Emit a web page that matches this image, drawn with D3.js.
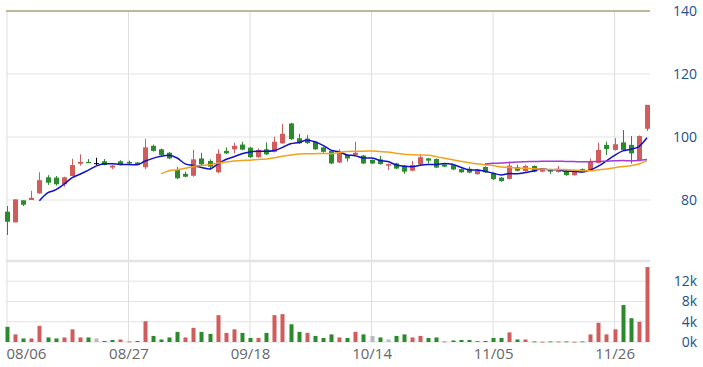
<!DOCTYPE html>
<html>
<head>
<meta charset="utf-8">
<script src="https://cdn.jsdelivr.net/npm/d3@7/dist/d3.min.js"></script>
<style>
  body { margin: 0; background: #fff; }
  svg { display: block; font-family: "Open Sans", sans-serif; }
</style>
</head>
<body>
<div id="chart"></div>
<script>
// daily OHLC + volume, 80 sessions
const open = [76.3, 72.9, 79.9, 80.0, 82.1, 87.2, 87.1, 85.0, 87.6, 91.5,
  92.1, 91.7, 92.3, 90.3, 92.3, 92.1, 91.9, 90.4, 97.2, 96.1,
  95.0, 89.5, 88.3, 87.7, 93.2, 92.4, 88.8, 95.6, 96.1, 97.6,
  96.6, 93.6, 96.1, 95.3, 98.0, 104.3, 99.6, 99.5, 98.5, 96.7,
  95.6, 91.9, 94.3, 94.3, 94.1, 92.7, 92.9, 90.9, 91.6, 90.9,
  89.3, 91.3, 93.2, 93.0, 91.3, 91.1, 89.8, 89.9, 88.2, 90.5,
  88.5, 87.1, 86.7, 90.4, 89.2, 90.8, 89.0, 89.7, 88.9, 89.2,
  87.9, 89.8, 89.5, 91.8, 97.5, 95.9, 98.3, 97.5, 92.7, 102.6];
const close = [73.1, 80.2, 78.5, 80.7, 86.3, 85.5, 85.0, 87.2, 91.1, 92.1,
  91.7, 91.7, 91.1, 90.9, 91.1, 91.6, 91.1, 96.7, 95.6, 94.3,
  93.2, 86.9, 87.4, 92.9, 91.3, 90.6, 94.7, 94.8, 97.2, 96.0,
  93.6, 95.9, 94.5, 98.5, 101.0, 99.3, 98.0, 98.1, 96.1, 95.3,
  91.6, 95.3, 93.2, 95.0, 91.6, 91.6, 91.4, 91.4, 90.0, 89.0,
  91.1, 93.6, 92.5, 90.3, 90.6, 89.7, 88.8, 88.7, 89.7, 88.8,
  86.6, 86.0, 90.9, 89.3, 90.8, 89.0, 89.8, 89.0, 89.8, 87.9,
  89.0, 88.8, 92.2, 95.9, 96.2, 97.7, 95.9, 94.8, 100.3, 110.2];
const high = [78.1, 80.2, 79.9, 82.9, 88.8, 87.9, 87.6, 87.4, 93.1, 94.5,
  93.0, 93.4, 93.0, 91.1, 92.6, 92.5, 92.0, 99.4, 97.6, 96.3,
  95.2, 90.5, 89.0, 95.9, 95.0, 92.9, 96.1, 96.7, 98.2, 98.5,
  96.9, 96.4, 98.3, 100.1, 104.1, 104.5, 101.0, 100.6, 98.7, 96.9,
  95.8, 96.1, 94.5, 98.5, 94.3, 92.9, 94.0, 91.6, 91.8, 91.1,
  92.4, 94.6, 93.4, 93.2, 91.5, 91.3, 90.0, 90.6, 89.9, 90.7,
  88.7, 87.3, 92.2, 91.2, 91.2, 91.0, 90.0, 89.9, 90.8, 89.4,
  89.2, 90.0, 93.2, 98.2, 98.5, 99.6, 102.2, 100.3, 100.5, 110.2];
const low = [68.9, 72.9, 78.1, 80.0, 82.0, 84.8, 84.6, 84.2, 87.6, 90.9,
  91.7, 91.1, 91.0, 89.8, 91.0, 91.5, 91.0, 89.8, 95.4, 94.1,
  93.0, 86.6, 87.2, 87.4, 91.1, 89.5, 88.5, 94.6, 94.8, 95.8,
  93.4, 93.4, 94.3, 95.1, 97.8, 99.1, 97.8, 97.8, 95.9, 95.0,
  91.4, 91.7, 92.2, 94.1, 91.4, 91.4, 91.2, 89.5, 89.8, 88.3,
  89.1, 91.1, 91.6, 90.1, 90.4, 89.5, 88.6, 88.5, 88.0, 88.6,
  86.4, 85.8, 86.5, 89.1, 89.0, 88.8, 88.8, 88.3, 88.7, 87.7,
  87.7, 88.6, 89.3, 91.6, 94.3, 95.7, 95.7, 91.6, 92.5, 101.9];
const volume = [3000, 1500, 700, 700, 3200, 900, 700, 900, 2500, 900,
  900, 700, 200, 400, 500, 100, 200, 4100, 1200, 500,
  900, 2000, 900, 2800, 2000, 1600, 5300, 1800, 2500, 1800,
  800, 800, 1800, 5300, 5500, 3500, 2000, 1800, 1200, 800,
  1500, 900, 800, 2000, 1500, 1200, 900, 500, 1200, 1500,
  900, 1200, 800, 900, 100, 300, 400, 400, 200, 200,
  800, 800, 1900, 500, 500, 100, 50, 100, 100, 100,
  50, 100, 1500, 3800, 1500, 2500, 7300, 4700, 4000, 14800];

const xTickIndex = [0, 15, 30, 45, 60, 75];
const xTickLabels = ["08/06", "08/27", "09/18", "10/14", "11/05", "11/26"];
const priceTicks = [80, 100, 120, 140];
const volumeTicks = [0, 4000, 8000, 12000];
const maPeriods = [5, 20, 60];

const W = 703, H = 367;
const left = 7, right = 650;
const red = "#d05c5c", green = "#2b8a2b";

const svg = d3.select("#chart").append("svg")
  .attr("width", W).attr("height", H);

const x = d3.scaleLinear().domain([0, close.length - 1]).range([left, 647]);
const y = d3.scaleLinear().domain([60, 140]).range([263, 11]);
const yv = d3.scaleLinear().domain([0, 16000]).range([342, 261]);

// grid
svg.append("g").selectAll("line")
  .data(xTickIndex).join("line")
  .attr("x1", d => x(d)).attr("x2", d => x(d))
  .attr("y1", 11).attr("y2", 342)
  .attr("stroke", "#dedede");

svg.append("g").selectAll("line")
  .data(priceTicks).join("line")
  .attr("x1", left - 1).attr("x2", right)
  .attr("y1", d => y(d)).attr("y2", d => y(d))
  .attr("stroke", d => d === 140 ? "#a8a27c" : "#e3e3e3")
  .attr("stroke-width", d => d === 140 ? 1.5 : 1.2);

svg.append("g").selectAll("line")
  .data(volumeTicks.concat([16000])).join("line")
  .attr("x1", left - 1).attr("x2", right)
  .attr("y1", d => yv(d)).attr("y2", d => yv(d))
  .attr("stroke", "#e3e3e3")
  .attr("stroke-width", d => d === 16000 ? 2.5 : 1.2);

// axis labels
const priceAxis = d3.axisRight(y).tickValues(priceTicks).tickSize(0).tickPadding(0);
svg.append("g").attr("transform", "translate(697,0)").call(priceAxis)
  .call(g => g.select(".domain").remove())
  .selectAll("text")
  .attr("text-anchor", "end")
  .attr("fill", "#23508c")
  .style("font-size", "14px")
  .style("font-family", "'Open Sans', sans-serif");

const volAxis = d3.axisRight(yv).tickValues(volumeTicks).tickSize(0).tickPadding(0)
  .tickFormat(d => (d / 1000) + "k");
svg.append("g").attr("transform", "translate(697,0)").call(volAxis)
  .call(g => g.select(".domain").remove())
  .selectAll("text")
  .attr("text-anchor", "end")
  .attr("fill", "#23508c")
  .style("font-size", "14px")
  .style("font-family", "'Open Sans', sans-serif");

const xAxis = d3.axisBottom(x).tickValues(xTickIndex).tickSize(0).tickPadding(0)
  .tickFormat((d, i) => xTickLabels[i]);
svg.append("g").attr("transform", "translate(0,348)").call(xAxis)
  .call(g => g.select(".domain").remove())
  .selectAll("text")
  .attr("fill", "#666")
  .attr("text-anchor", (d, i) => i === 0 ? "start" : "middle")
  .attr("dx", (d, i) => i === 0 ? "-1" : "0")
  .style("font-size", "15px")
  .style("font-family", "'Open Sans', sans-serif");

// candles
const idx = d3.range(close.length);
const candleColor = i => close[i] > open[i] ? red : close[i] < open[i] ? green : "#000";
const volColor = i => {
  if (i === 0) return candleColor(0);
  return close[i] > close[i - 1] ? red : close[i] < close[i - 1] ? green : "#bbb";
};

const candles = svg.append("g");
candles.selectAll("line")
  .data(idx).join("line")
  .attr("x1", i => Math.round(x(i)) + 0.5).attr("x2", i => Math.round(x(i)) + 0.5)
  .attr("y1", i => y(high[i])).attr("y2", i => y(low[i]))
  .attr("stroke", candleColor);
candles.selectAll("rect")
  .data(idx).join("rect")
  .attr("x", i => Math.round(x(i)) - 2)
  .attr("width", 5)
  .attr("y", i => y(Math.max(open[i], close[i])))
  .attr("height", i => Math.max(1, Math.abs(y(open[i]) - y(close[i]))))
  .attr("fill", candleColor);

// volume bars
svg.append("g").selectAll("rect")
  .data(idx).join("rect")
  .attr("x", i => Math.round(x(i)) - 1.5)
  .attr("width", 4)
  .attr("y", i => yv(volume[i]))
  .attr("height", i => Math.max(0.8, yv(0) - yv(volume[i])))
  .attr("fill", volColor);

// moving averages
const maColors = ["#1010c8", "#f2a21e", "#a53bd6"];
maPeriods.forEach((p, k) => {
  const pts = idx.filter(i => i >= p - 1)
    .map(i => [i, d3.mean(close.slice(i - p + 1, i + 1))]);
  const line = d3.line().x(d => x(d[0])).y(d => y(d[1])).curve(d3.curveMonotoneX);
  svg.append("path").datum(pts)
    .attr("d", line)
    .attr("fill", "none")
    .attr("stroke", maColors[k])
    .attr("stroke-width", 1.5);
});
</script>
</body>
</html>
